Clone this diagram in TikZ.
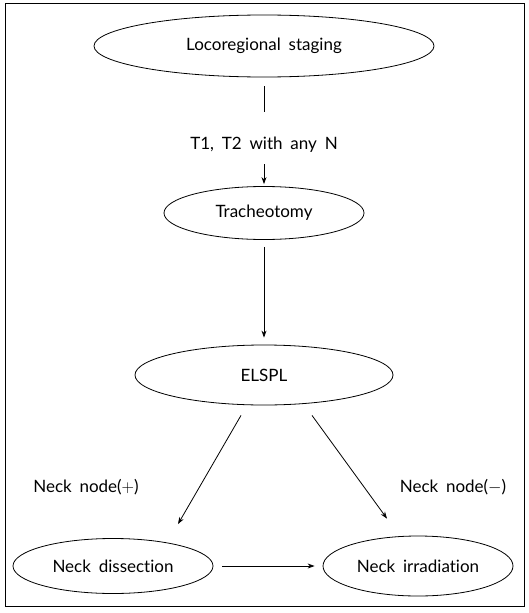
\documentclass[tikz,border=0pt]{standalone}
\usepackage{fontspec}
\setmainfont[WordSpace=1.8, Ligatures=NoCommon]{Lato}
\usetikzlibrary{shapes.geometric,arrows.meta,calc}
\tikzset{
  stage/.style={draw, ellipse, inner sep=0pt},
  arr/.style={-{Stealth[length=7pt,width=5pt]}},
}
\begin{document}
\begin{tikzpicture}[x=1pt, y=-1pt, line width=0.8pt, every node/.style={font=\fontsize{17}{20}\selectfont}]
    \useasboundingbox (0,0) rectangle (529,613);
    \draw (5,3) rectangle (524,606); %frame
    \node[stage, minimum width=340pt, minimum height=62pt] (loco) at (264,46) {Locoregional staging};
    \node (tt) at (264,145) {T1, T2 with any N};
    \node[stage, minimum width=200pt, minimum height=53pt] (trach) at (264,213) {Tracheotomy};
    \node[stage, minimum width=258pt, minimum height=60pt] (elspl) at (264,375) {ELSPL};
    \node[stage, minimum width=200pt, minimum height=55pt] (dis) at (113,566) {Neck dissection};
    \node[stage, minimum width=190pt, minimum height=60pt] (irr) at (418,566) {Neck irradiation};
    \node (plus) at (86,487) {Neck node($+$)};
    \node (minus) at (453,487) {Neck node($-$)};
    \draw[shorten <=9pt, shorten >=22pt] (loco) -- (tt);
    \draw[arr, shorten <=8pt, shorten >=2pt] (tt) -- (trach);
    \draw[arr, shorten <=7pt, shorten >=7pt] (trach) -- (elspl);
    \draw[arr] ($(elspl.south)+(-23,10)$) -- ($(dis.north)+(65,-14)$); %left branch
    \draw[arr] ($(elspl.south)+(48,10)$) -- ($(irr.north)+(-31,-17)$); %right branch
    \draw[arr, shorten <=9pt, shorten >=8pt] (dis) -- (irr);
\end{tikzpicture}
\end{document}
